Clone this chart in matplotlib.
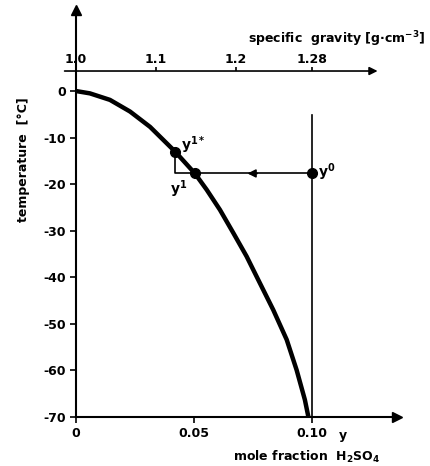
import matplotlib
matplotlib.use("Agg")
import matplotlib.pyplot as plt

# freezing curve (mole fraction H2SO4 vs temperature)
curve_x = [0.0, 0.0059, 0.0144, 0.0229, 0.0314, 0.0384, 0.042, 0.0504,
           0.0554, 0.061, 0.0667, 0.0723, 0.0773, 0.0836, 0.0893, 0.0935,
           0.097, 0.0985]
curve_t = [0.0, -0.5, -1.9, -4.4, -7.7, -11.2, -13.0, -17.7,
           -21.2, -25.5, -30.5, -35.5, -40.6, -47.0, -53.4, -59.9,
           -66.3, -70.0]

# operating points
y0 = (0.10, -17.7)
y1 = (0.0504, -17.7)
y1s = (0.042, -13.0)

x_ticks = [0, 0.05, 0.10]
x_labels = ["0", "0.05", "0.10"]
t_ticks = [0, -10, -20, -30, -40, -50, -60, -70]
sg_pos = [0.0, 0.0339, 0.0678, 0.10]
sg_labels = ["1.0", "1.1", "1.2", "1.28"]

plt.rcParams["font.family"] = "DejaVu Sans"
plt.rcParams["font.weight"] = "bold"
plt.rcParams["mathtext.default"] = "bf"
fs = 9

fig = plt.figure(figsize=(4.3, 4.66), dpi=100)
ax = fig.add_axes([0.1767, 0.1052, 0.923 - 0.1767, 0.9785 - 0.1052])
ax.set_xlim(0, 0.136)
ax.set_ylim(-70, 17.4)

for s in ["top", "right"]:
    ax.spines[s].set_visible(False)
ax.spines["left"].set_linewidth(1.5)
ax.spines["bottom"].set_linewidth(1.5)

ax.set_xticks(x_ticks, x_labels)
ax.set_yticks(t_ticks, [str(t) for t in t_ticks])
ax.tick_params(axis="both", direction="out", length=4, width=1.2,
               labelsize=fs, pad=3)

# axis arrow heads
ax.plot(1, -70, ">", color="k", ms=7, transform=ax.get_yaxis_transform(),
        clip_on=False)
ax.plot(0, 1, "^", color="k", ms=7, transform=ax.get_xaxis_transform(),
        clip_on=False)

# top specific-gravity axis
top_t = 4.3
ax.annotate("", xy=(0.129, top_t), xytext=(-0.006, top_t),
            arrowprops=dict(arrowstyle="-|>", color="k", lw=1.2,
                            mutation_scale=12), annotation_clip=False)
sec = ax.secondary_xaxis(location=(top_t + 70) / 87.4)
sec.set_xticks(sg_pos, sg_labels)
sec.spines["bottom"].set_visible(False)
sec.spines["top"].set_visible(False)
sec.tick_params(axis="x", direction="out", length=3, width=1.2,
                labelsize=fs, pad=0.5)
fig.text(248 / 430, 1 - 39 / 466, "specific  gravity [g·cm$^{-3}$]",
         fontsize=fs, va="center", ha="left")

# curve
ax.plot(curve_x, curve_t, color="k", lw=3.2, solid_joinstyle="round")

# vertical line at y0 composition
ax.plot([y0[0], y0[0]], [-5.2, -70], color="k", lw=1.2)
# step lines
ax.plot([y1s[0], y1s[0], y0[0]], [y1s[1], y0[1], y0[1]], color="k", lw=1.2)
ax.annotate("", xy=(0.0715, y0[1]), xytext=(0.078, y0[1]),
            arrowprops=dict(arrowstyle="-|>", color="k", lw=1.2,
                            mutation_scale=12))

for p in (y0, y1, y1s):
    ax.plot(p[0], p[1], "o", color="k", ms=7)

ax.text(0.0445, -11.6, "y$^{1*}$", fontsize=fs + 1, va="center")
ax.text(0.040, -21.0, "y$^{1}$", fontsize=fs + 1, va="center")
ax.text(0.1025, -17.5, "y$^{0}$", fontsize=fs + 1, va="center")

fig.text(343 / 430, 1 - 436 / 466, "y", fontsize=fs, ha="center", va="center")
fig.text(380 / 430, 1 - 457 / 466, "mole fraction  H$_2$SO$_4$",
         fontsize=fs, ha="right", va="center")
fig.text(24 / 430, 1 - 160 / 466, "temperature  [°C]", fontsize=fs,
         rotation=90, ha="center", va="center")

fig.savefig("out.png", dpi=100, facecolor="white")
